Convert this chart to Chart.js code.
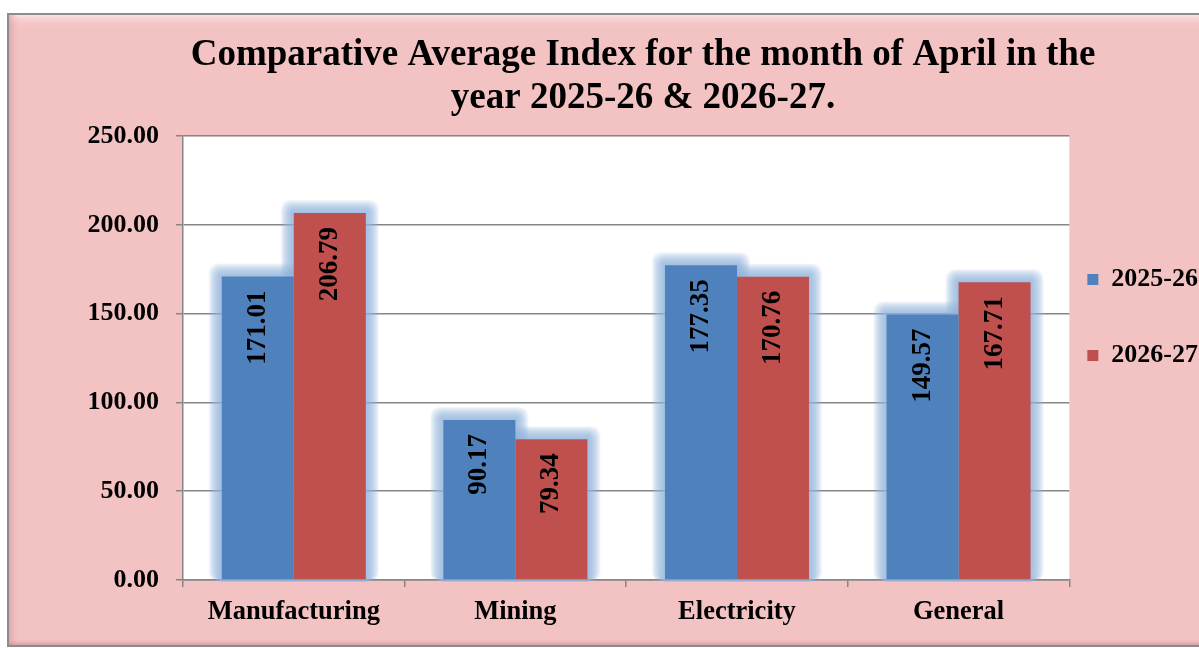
<!DOCTYPE html>
<html>
<head>
<meta charset="utf-8">
<script src="https://cdn.jsdelivr.net/npm/chart.js@4.4.1/dist/chart.umd.min.js"></script>
<style>
html,body{margin:0;padding:0;background:#fff;}
#wrap{width:1199px;height:648px;position:relative;}
</style>
</head>
<body>
<div id="wrap"><canvas id="c" width="1199" height="648"></canvas></div>
<script>
const categories = ["Manufacturing", "Mining", "Electricity", "General"];
const series2025 = [171.01, 90.17, 177.35, 149.57];
const series2026 = [206.79, 79.34, 170.76, 167.71];
const seriesNames = ["2025-26", "2026-27"];
const titleLines = ["Comparative Average Index for the month of April in the", "year 2025-26 & 2026-27."];
const yMin = 0, yMax = 250, yStep = 50;

const FONT = '"Liberation Serif", "Times New Roman", serif';

const framePlugin = {
  id: 'frame',
  beforeDraw(chart) {
    const ctx = chart.ctx;
    ctx.save();
    ctx.fillStyle = '#ffffff';
    ctx.fillRect(0, 0, chart.width, chart.height);
    const x = 8, y = 14, w = chart.width - 8 + 4, h = 632;
    ctx.fillStyle = '#f3c3c3';
    ctx.fillRect(x, y, w, h);
    const g = ctx.createLinearGradient(0, y, 0, y + 14);
    g.addColorStop(0, 'rgba(255,235,235,0.9)');
    g.addColorStop(1, 'rgba(243,195,195,0)');
    ctx.fillStyle = g;
    ctx.fillRect(x, y, w, 14);
    const g2 = ctx.createLinearGradient(x, 0, x + 12, 0);
    g2.addColorStop(0, 'rgba(200,140,140,0.6)');
    g2.addColorStop(1, 'rgba(243,195,195,0)');
    ctx.fillStyle = g2;
    ctx.fillRect(x, y, 12, h);
    const g3 = ctx.createLinearGradient(0, y + h - 8, 0, y + h);
    g3.addColorStop(0, 'rgba(243,195,195,0)');
    g3.addColorStop(1, 'rgba(170,120,120,0.6)');
    ctx.fillStyle = g3;
    ctx.fillRect(x, y + h - 8, w, 8);
    ctx.strokeStyle = '#8c8c8c';
    ctx.lineWidth = 2;
    ctx.strokeRect(x, y, w, h);
    const a = chart.chartArea;
    ctx.fillStyle = '#ffffff';
    ctx.fillRect(a.left, a.top, a.right - a.left, a.bottom - a.top);
    ctx.restore();
  },
  beforeDatasetsDraw(chart) {
    const ctx = chart.ctx;
    const a = chart.chartArea;
    ctx.save();
    ctx.beginPath();
    ctx.rect(a.left, a.top - 30, a.right - a.left + 20, a.bottom - a.top + 33);
    ctx.clip();
    const e = 13;
    ctx.fillStyle = 'rgba(150,182,222,0.12)';
    chart.data.datasets.forEach((ds, di) => {
      chart.getDatasetMeta(di).data.forEach((bar) => {
        const p = bar.getProps(['x', 'y', 'width', 'base'], true);
        const l = p.x - p.width / 2, r = p.x + p.width / 2;
        for (let k = e; k >= 1; k--) {
          const rr = Math.min(k, 9);
          ctx.beginPath();
          if (ctx.roundRect) ctx.roundRect(l - k, p.y - k, (r - l) + 2 * k, p.base - p.y + k + 2, rr);
          else ctx.rect(l - k, p.y - k, (r - l) + 2 * k, p.base - p.y + k + 2);
          ctx.fill();
        }
      });
    });
    ctx.restore();
  },
  afterDatasetsDraw(chart) {
    const ctx = chart.ctx;
    ctx.save();
    ctx.fillStyle = '#000';
    ctx.font = 'bold 27px ' + FONT;
    ctx.textAlign = 'right';
    ctx.textBaseline = 'middle';
    chart.data.datasets.forEach((ds, di) => {
      const meta = chart.getDatasetMeta(di);
      meta.data.forEach((bar, i) => {
        const txt = ds.data[i].toFixed(2);
        ctx.save();
        ctx.translate(bar.x, bar.y + 14);
        ctx.rotate(-Math.PI / 2);
        ctx.fillText(txt, 0, 0);
        ctx.restore();
      });
    });
    ctx.restore();
  }
};

new Chart(document.getElementById('c'), {
  type: 'bar',
  data: {
    labels: categories,
    datasets: [
      { label: seriesNames[0], data: series2025, backgroundColor: '#4f81bd', borderWidth: 0 },
      { label: seriesNames[1], data: series2026, backgroundColor: '#c0504d', borderWidth: 0 }
    ]
  },
  options: {
    responsive: false,
    animation: false,
    devicePixelRatio: 1,
    layout: { padding: { top: 14, left: 78, right: -9, bottom: -5 } },
    datasets: { bar: { categoryPercentage: 0.65, barPercentage: 1.0 } },
    plugins: {
      title: {
        display: true,
        text: titleLines,
        color: '#000',
        font: { family: FONT, size: 37, weight: 'bold', lineHeight: 1.165 },
        padding: { top: 20, bottom: 16 }
      },
      legend: {
        display: true,
        position: 'right',
        align: 'center',
        labels: {
          color: '#000',
          font: { family: FONT, size: 26, weight: 'bold', lineHeight: 1.1154 },
          boxWidth: 11,
          boxHeight: 11,
          padding: 18,
          generateLabels(chart) {
            const items = Chart.defaults.plugins.legend.labels.generateLabels(chart);
            items.forEach((it) => {
              it.lineWidth = 0;
              it.text = [it.text, ''];
            });
            return items;
          }
        }
      },
      tooltip: { enabled: false }
    },
    scales: {
      x: {
        grid: { display: true, drawOnChartArea: false, drawTicks: true, tickLength: 7, color: '#868686', lineWidth: 1.5, offset: true },
        border: { display: true, color: '#868686', width: 1.5 },
        ticks: { color: '#000', font: { family: FONT, size: 26.5, weight: 'bold' }, padding: 9 },
        afterFit(scale) { scale.height = 73; }
      },
      y: {
        min: yMin, max: yMax,
        ticks: { stepSize: yStep, color: '#000', font: { family: FONT, size: 26, weight: 'bold' }, padding: 17,
          callback: (v) => Number(v).toFixed(2) },
        grid: { color: '#868686', lineWidth: 1.5, tickLength: 7 },
        border: { display: true, color: '#868686', width: 1.5 },
        afterFit(scale) { scale.width = 105; }
      }
    }
  },
  plugins: [framePlugin]
});
</script>
</body>
</html>
